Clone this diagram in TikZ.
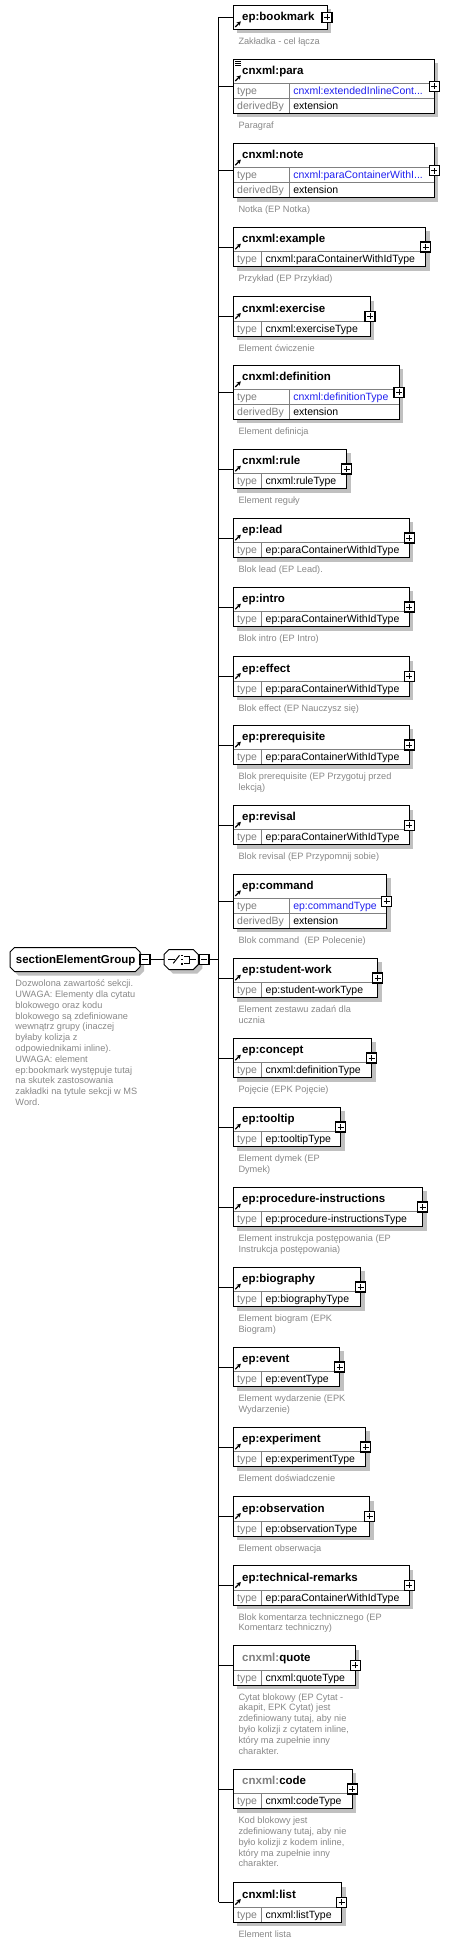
\documentclass[tikz,border=0pt]{standalone}
\usepackage{fontspec}
\setmainfont{Liberation Sans}
\usetikzlibrary{arrows.meta}
\definecolor{descc}{RGB}{136,136,136}
\definecolor{lblc}{RGB}{128,128,128}
\definecolor{bluec}{RGB}{32,32,240}
\definecolor{shadc}{RGB}{192,192,192}
\definecolor{innerc}{RGB}{128,128,128}
\tikzset{
  elbox/.style={draw=black, line width=1pt, fill=white, inner sep=0pt, outer sep=0pt, anchor=north west},
  ghost/.style={draw=none, inner sep=0pt, outer sep=0pt},
  nm/.style={inner sep=0pt, anchor=base west, font=\fontsize{11.5}{13}\selectfont\bfseries},
  lbl/.style={inner sep=0pt, anchor=base west, text=lblc, font=\fontsize{10.5}{12}\selectfont},
  val/.style={inner sep=0pt, anchor=base west, font=\fontsize{10.5}{12}\selectfont},
  dsc/.style={inner sep=0pt, anchor=base west, text=descc, font=\fontsize{9.2}{10.8}\selectfont},
  conn/.style={draw=black, line width=1pt},
  innerline/.style={draw=innerc, line width=1pt},
  plusbox/.style={draw=black, fill=white, line width=1.2pt, minimum size=10pt, inner sep=0pt, outer sep=0pt,
    path picture={\draw[line width=1pt] ([xshift=-3pt]path picture bounding box.center) -- ([xshift=3pt]path picture bounding box.center);
      \draw[line width=1pt] ([yshift=-3pt]path picture bounding box.center) -- ([yshift=3pt]path picture bounding box.center);}},
  minusbox/.style={draw=black, fill=white, line width=1.2pt, minimum size=10pt, inner sep=0pt, outer sep=0pt,
    path picture={\draw[line width=1pt] ([xshift=-3pt]path picture bounding box.center) -- ([xshift=3pt]path picture bounding box.center);}},
  refarrow/.style={-{Stealth[length=4pt,width=4.5pt]}, line width=1.2pt},
}
% octagon path: x1 y1 x2 y2 chamfer
\newcommand\octpath[5]{({#1+#5},{#2}) -- ({#3-#5},{#2}) -- ({#3},{#2+#5}) -- ({#3},{#4-#5}) -- ({#3-#5},{#4}) -- ({#1+#5},{#4}) -- ({#1},{#4-#5}) -- ({#1},{#2+#5}) -- cycle}
% #1 id, #2 top, #3 right, #4 name, #5 rows, #6 type, #7 type colour, #8 ref arrow, #9 description lines
\newcommand\mkbox[9]{%
  \pgfmathsetmacro\bt{#2}%
  \pgfmathsetmacro\hb{#2+24.4}%
  \pgfmathsetmacro\bb{#2+24.4+15*#5}%
  \pgfmathsetmacro\bc{(\bt+\bb)/2}%
  \pgfmathsetmacro\bw{#3-233}%
  \pgfmathsetmacro\bh{\bb-\bt}%
  \ifnum#5=2 \def\cw{289.3}\else\def\cw{261.7}\fi
  \fill[shadc] (237,{\bt+4}) rectangle ({#3+4},{\bb+4});
  \node[elbox, minimum width=\bw pt, minimum height=\bh pt] (#1) at (233,\bt) {};
  \ifnum#5>0
    \draw[innerline] (233.5,\hb) -- ({#3-0.5},\hb);
    \draw[innerline] (\cw,\hb) -- (\cw,{\bb-0.5});
    \node[lbl] (#1-tl) at (237,{\hb+11}) {type};
    \node[val, text=#7] (#1-tv) at ({\cw+3.8},{\hb+11}) {#6};
  \fi
  \ifnum#5=2
    \draw[innerline] (233.5,{\hb+15}) -- ({#3-0.5},{\hb+15});
    \node[lbl] (#1-dl) at (237,{\hb+26}) {derivedBy};
    \node[val] (#1-dv) at ({\cw+3.8},{\hb+26}) {extension};
  \fi
  \node[nm] (#1-n) at (242,{\bt+15.3}) {#4};
  \ifnum#8=1 \draw[refarrow] (235.3,{\hb-2.5}) -- (240.8,{\hb-8}); \fi
  \node[plusbox] (#1-p) at (#3,\bc) {};
  \coordinate (s-#1) at (218.5,\bc);
  \draw[conn] (s-#1) -- (#1);
  \foreach \l [count=\i] in {#9} {\node[dsc] (#1-d\i) at (238.3,{\bb+15+(\i-1)*10.8}) {\l};}
}
\begin{document}
\begin{tikzpicture}[x=1pt,y=-1pt]
\useasboundingbox (0,0) rectangle (449,1944);
\fill[white] (0,0) rectangle (449,1944);

\mkbox{bookmark}{5}{327}{ep:bookmark}{0}{}{black}{1}{Zakładka - cel łącza}
\mkbox{para}{59}{434.3}{cnxml:para}{2}{cnxml:extendedInlineCont...}{bluec}{1}{Paragraf}
\draw[line width=0.7pt] (235,61.3) -- (240.5,61.3) (235,63.3) -- (240.5,63.3) (235,65.3) -- (240.5,65.3);
\mkbox{note}{143.3}{434.3}{cnxml:note}{2}{cnxml:paraContainerWithI...}{bluec}{1}{Notka (EP Notka)}
\mkbox{example}{227.3}{425.7}{cnxml:example}{1}{cnxml:paraContainerWithIdType}{black}{1}{Przykład (EP Przykład)}
\mkbox{exercise}{296.7}{370}{cnxml:exercise}{1}{cnxml:exerciseType}{black}{1}{Element ćwiczenie}
\mkbox{definition}{365}{399}{cnxml:definition}{2}{cnxml:definitionType}{bluec}{1}{Element definicja}
\mkbox{rule}{449.3}{346.7}{cnxml:rule}{1}{cnxml:ruleType}{black}{1}{Element reguły}
\mkbox{lead}{518.3}{409.3}{ep:lead}{1}{ep:paraContainerWithIdType}{black}{1}{Blok lead (EP Lead).}
\mkbox{intro}{587.3}{409.3}{ep:intro}{1}{ep:paraContainerWithIdType}{black}{1}{Blok intro (EP Intro)}
\mkbox{effect}{656.7}{409.3}{ep:effect}{1}{ep:paraContainerWithIdType}{black}{1}{Blok effect (EP Nauczysz się)}
\mkbox{prerequisite}{725.3}{409.3}{ep:prerequisite}{1}{ep:paraContainerWithIdType}{black}{1}{Blok prerequisite (EP Przygotuj przed,lekcją)}
\mkbox{revisal}{805.5}{409.3}{ep:revisal}{1}{ep:paraContainerWithIdType}{black}{1}{Blok revisal (EP Przypomnij sobie)}
\mkbox{command}{874}{386.7}{ep:command}{2}{ep:commandType}{bluec}{1}{Blok command~ (EP Polecenie)}
\mkbox{student-work}{958.3}{377.7}{ep:student-work}{1}{ep:student-workType}{black}{1}{Element zestawu zadań dla,ucznia}
\mkbox{concept}{1038.3}{371.7}{ep:concept}{1}{cnxml:definitionType}{black}{1}{Pojęcie (EPK Pojęcie)}
\mkbox{tooltip}{1107.3}{340.7}{ep:tooltip}{1}{ep:tooltipType}{black}{1}{Element dymek (EP,Dymek)}
\mkbox{procedure-instructions}{1187.3}{422.7}{ep:procedure-instructions}{1}{ep:procedure-instructionsType}{black}{1}{Element instrukcja postępowania (EP,Instrukcja postępowania)}
\mkbox{biography}{1267.3}{360.7}{ep:biography}{1}{ep:biographyType}{black}{1}{Element biogram (EPK,Biogram)}
\mkbox{event}{1347.3}{339.7}{ep:event}{1}{ep:eventType}{black}{1}{Element wydarzenie (EPK,Wydarzenie)}
\mkbox{experiment}{1427.3}{365.7}{ep:experiment}{1}{ep:experimentType}{black}{1}{Element doświadczenie}
\mkbox{observation}{1496.7}{369.7}{ep:observation}{1}{ep:observationType}{black}{1}{Element obserwacja}
\mkbox{technical-remarks}{1565.7}{409.3}{ep:technical-remarks}{1}{ep:paraContainerWithIdType}{black}{1}{Blok komentarza technicznego (EP,Komentarz techniczny)}
\mkbox{quote}{1645.7}{355.3}{\textcolor{lblc}{cnxml:}quote}{1}{cnxml:quoteType}{black}{0}{Cytat blokowy (EP Cytat -,{akapit, EPK Cytat) jest},{zdefiniowany tutaj, aby nie},{było kolizji z cytatem inline,},który ma zupełnie inny,charakter.}
\mkbox{code}{1769.3}{352.3}{\textcolor{lblc}{cnxml:}code}{1}{cnxml:codeType}{black}{0}{Kod blokowy jest,{zdefiniowany tutaj, aby nie},{było kolizji z kodem inline,},który ma zupełnie inny,charakter.}
\mkbox{list}{1882.7}{341.7}{cnxml:list}{1}{cnxml:listType}{black}{1}{Element lista}

% spine
\draw[conn] (s-bookmark) -- (s-list);

% group element
\fill[shadc] \octpath{14}{951.5}{144}{975.5}{4.5};
\draw[line width=1pt, fill=white] \octpath{10}{947.5}{140}{971.5}{4.5};
\node[ghost, minimum width=130pt, minimum height=24pt] (grp) at (75,959.5) {};
\node[nm] (grp-n) at (15.7,963.3) {sectionElementGroup};
\node[minusbox] (grp-m) at (145,959.5) {};

% sequence compositor
\fill[shadc] \octpath{168}{953.5}{202.3}{973.5}{5};
\draw[line width=1pt, fill=white] \octpath{164}{949.5}{198.3}{969.5}{5};
\node[ghost, minimum width=34.3pt, minimum height=20pt] (seq) at (181.15,959.5) {};
\draw[line width=1pt] (168.3,959.5) -- (174.5,959.5);
\draw[line width=1pt] (173.3,963.3) -- (179.5,955.3);
\fill (180.8,954.5) rectangle (182.6,956.3);
\fill (180.8,958.6) rectangle (182.6,960.4);
\fill (180.8,962.7) rectangle (182.6,964.5);
\draw[line width=1pt] (184,956) -- (189,956) -- (189,963) -- (184,963);
\draw[line width=1pt] (189,959.5) -- (195.5,959.5);
\node[minusbox] (seq-m) at (204,959.5) {};
\coordinate (s-mid) at (218.5,959.5);
\draw[conn] (grp-m) -- (seq);
\draw[conn] (seq-m) -- (s-mid);

\foreach \l [count=\i] in {Dozwolona zawartość sekcji.,UWAGA: Elementy dla cytatu,blokowego oraz kodu,blokowego są zdefiniowane,wewnątrz grupy (inaczej,byłaby kolizja z,odpowiednikami inline).,UWAGA: element,ep:bookmark występuje tutaj,na skutek zastosowania,zakładki na tytule sekcji w MS,Word.}
  {\node[dsc] (grp-d\i) at (15.3,{986.7+(\i-1)*10.8}) {\l};}
\end{tikzpicture}
\end{document}
